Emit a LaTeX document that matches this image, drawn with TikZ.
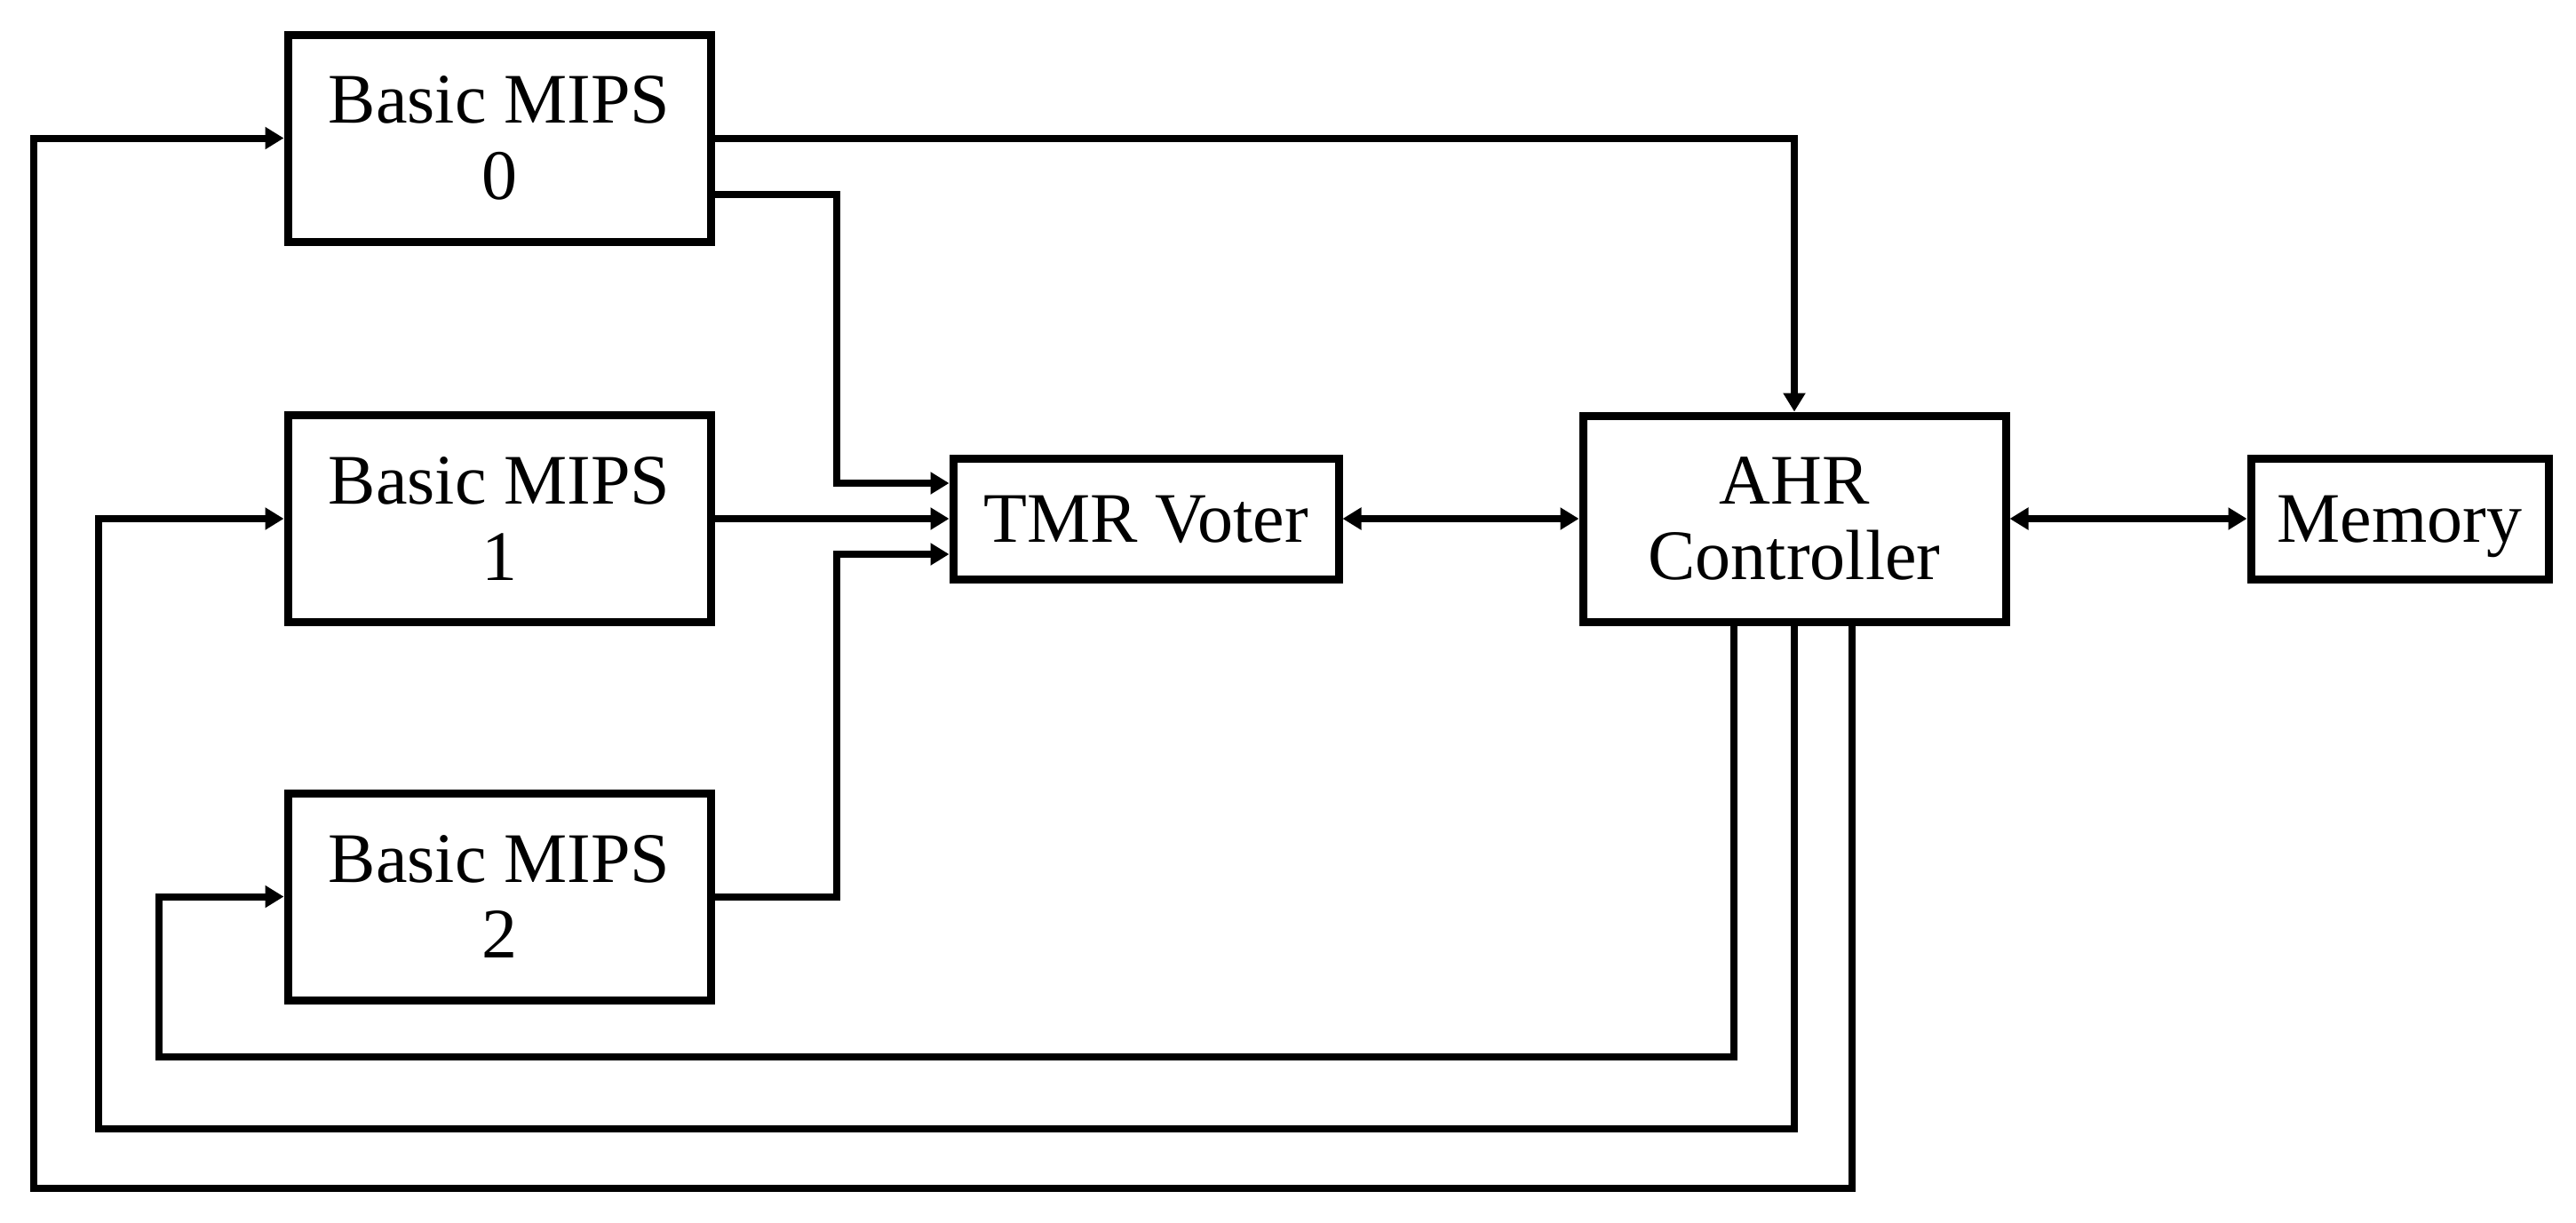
\documentclass[tikz,border=0pt]{standalone}
\usepackage{fontspec}
\setmainfont{Liberation Serif}
\usepackage{tikz}
\usetikzlibrary{arrows.meta}

\begin{document}
\begin{tikzpicture}[
  >={Triangle[length=2.1mm,width=2.4mm]},
  block/.style={draw,line width=0.9mm,inner sep=0pt,align=center,
    font=\fontsize{22.76}{24.45}\selectfont},
  oneline/.style={text height=15pt,text depth=0pt},
  wire/.style={line width=0.8mm}]
  \useasboundingbox
    (0,0)
    rectangle
    (29,-13.76);
  % processors, voter, controller, memory
  \node[block,minimum width=4.76cm,minimum height=2.33cm] (mips0)
    at (5.62,-1.555) {Basic MIPS\\0};
  \node[block,minimum width=4.76cm,minimum height=2.33cm] (mips1)
    at (5.62,-5.84) {Basic MIPS\\1};
  \node[block,minimum width=4.76cm,minimum height=2.33cm] (mips2)
    at (5.62,-10.095) {Basic MIPS\\2};
  \node[block,oneline,minimum width=4.34cm,minimum height=1.36cm] (voter)
    at (12.90,-5.84) {TMR Voter};
  \node[block,minimum width=4.76cm,minimum height=2.32cm] (ahr)
    at (20.20,-5.84) {AHR\\Controller};
  \node[block,oneline,minimum width=3.35cm,minimum height=1.36cm] (memory)
    at (27.015,-5.84) {Memory};
  % bend points
  \coordinate (join) at (9.42,-5.84);
  \coordinate (loop0) at (0.38,-13.38);
  \coordinate (loop1) at (1.11,-12.71);
  \coordinate (loop2) at (1.79,-11.90);
  % into the voter
  \draw[wire,->]
    ([yshift=-6.35mm]mips0.east)
    -| ([yshift=4mm]join)
    --
    ([yshift=4mm]voter.west);
  \draw[wire,->]
    (mips1.east)
    --
    (voter.west);
  \draw[wire,->]
    (mips2.east)
    -| ([yshift=-4mm]join)
    --
    ([yshift=-4mm]voter.west);
  % controller
  \draw[wire,->]
    (mips0.east)
    -|
    (ahr.north);
  \draw[wire,<->]
    (voter.east)
    --
    (ahr.west);
  \draw[wire,<->]
    (ahr.east)
    --
    (memory.west);
  % feedback to the processors
  \draw[wire,->]
    ([xshift=6.5mm]ahr.south)
    |- (loop0)
    |-
    (mips0.west);
  \draw[wire,->]
    (ahr.south)
    |- (loop1)
    |-
    (mips1.west);
  \draw[wire,->]
    ([xshift=-6.8mm]ahr.south)
    |- (loop2)
    |-
    (mips2.west);
\end{tikzpicture}
\end{document}
